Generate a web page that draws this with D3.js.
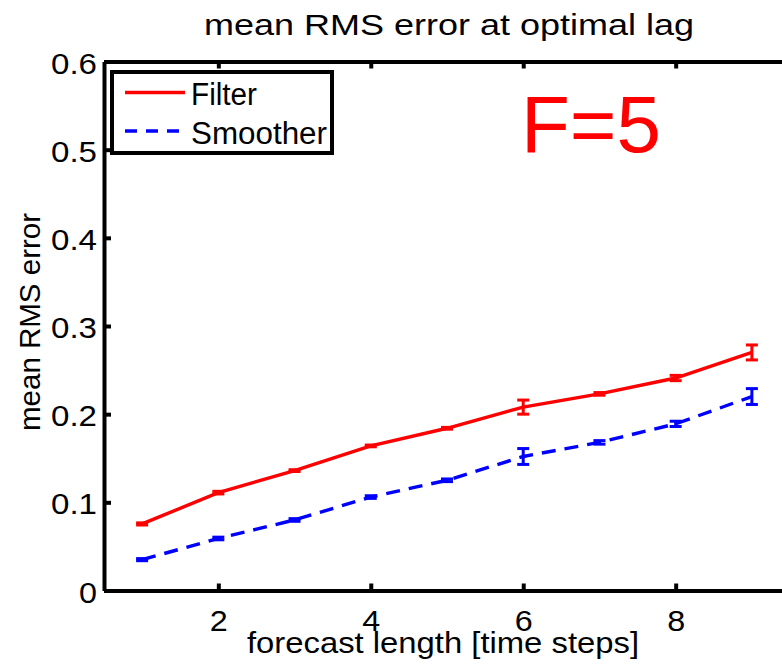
<!DOCTYPE html>
<html><head><meta charset="utf-8">
<script src="https://cdn.jsdelivr.net/npm/d3@7"></script>
<style>
body{margin:0;background:#fff;overflow:hidden}
text{font-family:"Liberation Sans",Arial,Helvetica,sans-serif;fill:#000}
</style>
</head><body>
<svg id="chart" width="782" height="666"></svg>
<script>
// ---- data ----
const steps = [1, 2, 3, 4, 5, 6, 7, 8, 9];
const filterMean = [0.0755, 0.111, 0.136, 0.164, 0.184, 0.208, 0.223, 0.241, 0.270];
const filterErr  = [0.0012, 0.0015, 0.001, 0.001, 0.001, 0.008, 0.0015, 0.003, 0.0085];
const smootherMean = [0.035, 0.059, 0.080, 0.106, 0.125, 0.152, 0.168, 0.189, 0.220];
const smootherErr  = [0.0012, 0.0015, 0.0015, 0.0015, 0.0015, 0.009, 0.002, 0.003, 0.009];
const seriesNames = ["Filter", "Smoother"];
const xTicks = [2, 4, 6, 8];
const yTicks = [0, 0.1, 0.2, 0.3, 0.4, 0.5, 0.6];
const yTickLabels = ["0", "0.1", "0.2", "0.3", "0.4", "0.5", "0.6"];
const titleText = "mean RMS error at optimal lag";
const xLabelText = "forecast length [time steps]";
const yLabelText = "mean RMS error";
const annotationText = "F=5";

// ---- layout ----
const svg = d3.select("#chart");
const x = d3.scaleLinear().domain([0.5, 9.5]).range([104, 790]);
const y = d3.scaleLinear().domain([0, 0.6]).range([590.5, 61.5]);
const AX = 4;
const FS = 29;

const series = [
  {name: seriesNames[0], mean: filterMean, err: filterErr, color: "#ff0000", dash: null},
  {name: seriesNames[1], mean: smootherMean, err: smootherErr, color: "#0000ff", dash: "14,9"}
];

// data lines & error bars
const line = d3.line().x((d) => x(d[0])).y((d) => y(d[1]));
series.forEach(s => {
  const pts = steps.map((t, i) => [t, s.mean[i]]);
  svg.append("path").attr("d", line(pts)).attr("fill", "none")
    .attr("stroke", s.color).attr("stroke-width", 3.4)
    .attr("stroke-dasharray", s.dash);
  const g = svg.append("g").attr("stroke", s.color).attr("stroke-width", 3);
  steps.forEach((t, i) => {
    const cx = x(t), y1 = y(s.mean[i] - s.err[i]), y2 = y(s.mean[i] + s.err[i]);
    g.append("line").attr("x1", cx).attr("x2", cx).attr("y1", y1).attr("y2", y2);
    g.append("line").attr("x1", cx - 6).attr("x2", cx + 6).attr("y1", y1).attr("y2", y1);
    g.append("line").attr("x1", cx - 6).attr("x2", cx + 6).attr("y1", y2).attr("y2", y2);
  });
});

// axes (box with inward ticks)
function styleAxis(g) {
  g.select(".domain").attr("stroke", "#000").attr("stroke-width", AX);
  g.selectAll(".tick line").attr("stroke", "#000").attr("stroke-width", AX);
}
const xb = svg.append("g").attr("transform", `translate(0,${y(0)})`)
  .call(d3.axisBottom(x).tickValues(xTicks).tickFormat(d3.format("d")).tickSizeInner(-7).tickSizeOuter(0).tickPadding(20));
styleAxis(xb);
xb.selectAll(".tick text").attr("font-size", FS).attr("font-family", "Liberation Sans, Arial, sans-serif").attr("fill", "#000")
  .attr("textLength", 18).attr("lengthAdjust", "spacingAndGlyphs");

const xt = svg.append("g").attr("transform", `translate(0,${y(0.6)})`)
  .call(d3.axisTop(x).tickValues(xTicks).tickFormat("").tickSizeInner(-7).tickSizeOuter(0));
styleAxis(xt);

const yl = svg.append("g").attr("transform", `translate(${x(0.5)},0)`)
  .call(d3.axisLeft(y).tickValues(yTicks).tickFormat((d, i) => yTickLabels[i]).tickSizeInner(-7).tickSizeOuter(0).tickPadding(7));
styleAxis(yl);
yl.selectAll(".tick text").attr("font-size", FS).attr("font-family", "Liberation Sans, Arial, sans-serif")
  .attr("fill", "#000").attr("dy", "0.4em")
  .attr("textLength", (d, i) => yTickLabels[i].length > 1 ? 46 : 18).attr("lengthAdjust", "spacingAndGlyphs");

const yr = svg.append("g").attr("transform", `translate(${x(9.5)},0)`)
  .call(d3.axisRight(y).tickValues(yTicks).tickFormat("").tickSizeInner(-7).tickSizeOuter(0));
styleAxis(yr);

// title and axis labels
svg.append("text").attr("x", 204).attr("y", 34.5).attr("font-size", FS)
  .attr("textLength", 490).attr("lengthAdjust", "spacingAndGlyphs").text(titleText);
svg.append("text").attr("x", 247).attr("y", 653).attr("font-size", FS)
  .attr("textLength", 392).attr("lengthAdjust", "spacingAndGlyphs").text(xLabelText);
svg.append("text").attr("transform", "translate(40,431) rotate(-90)").attr("font-size", FS)
  .attr("textLength", 218).attr("lengthAdjust", "spacingAndGlyphs").text(yLabelText);

// annotation
svg.append("text").attr("x", 521).attr("y", 152).attr("font-size", 80)
  .style("fill", "#ff0000").text(annotationText);

// legend
const lg = svg.append("g");
lg.append("rect").attr("x", 112).attr("y", 72).attr("width", 220).attr("height", 81)
  .attr("fill", "#fff").attr("stroke", "#000").attr("stroke-width", AX);
const legY = [92.5, 131];
const legBase = [105, 143.5];
const legW = [66, 136];
series.forEach((s, i) => {
  lg.append("line").attr("x1", 125).attr("x2", 185).attr("y1", legY[i]).attr("y2", legY[i])
    .attr("stroke", s.color).attr("stroke-width", 3.4).attr("stroke-dasharray", s.dash ? "12,9" : null);
  lg.append("text").attr("x", 191).attr("y", legBase[i]).attr("font-size", 31)
    .attr("textLength", legW[i]).attr("lengthAdjust", "spacingAndGlyphs").text(s.name);
});
</script>
</body></html>
